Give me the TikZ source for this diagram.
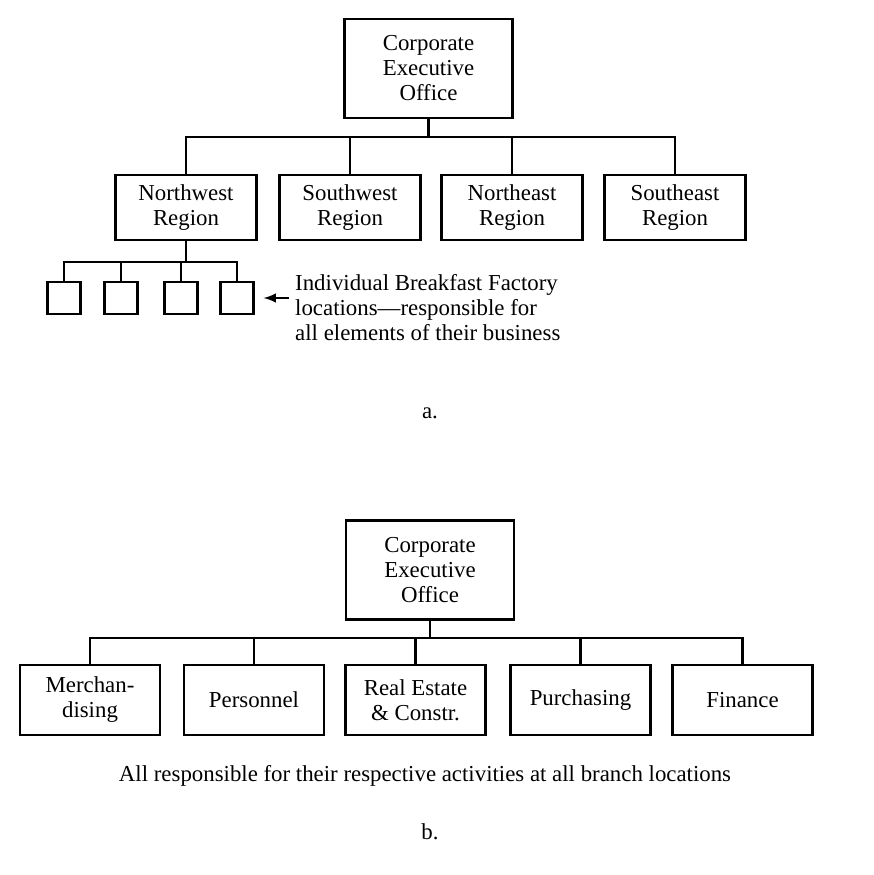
\documentclass[tikz,border=0pt]{standalone}
\usepackage{fontspec}
\setmainfont{Liberation Serif}

\begin{document}
\begin{tikzpicture}[x=0.02cm, y=-0.02cm, >=latex,
    font=\fontsize{13}{14.2}\selectfont,
    conn/.style={line width=1.4pt},
    box/.style={draw, line width=1.4pt, align=center, inner sep=2pt},
    topbox/.style={box, minimum width=3.36cm, minimum height=1.98cm},
    regionbox/.style={box, minimum width=2.82cm, minimum height=1.3cm},
    locbox/.style={box, minimum width=0.66cm, minimum height=0.64cm},
    deptbox/.style={box, minimum width=2.8cm, minimum height=1.4cm}]
        \useasboundingbox (0,0) rectangle (874,875);
        % ==== PART A: REGIONS ====
        \node[topbox] (ceoA) at (428.5,68.5) {Corporate\\Executive\\Office};
        \node[regionbox] (nw) at (186,207.5) {Northwest\\Region};
        \node[regionbox] (sw) at (350,207.5) {Southwest\\Region};
        \node[regionbox] (ne) at (512,207.5) {Northeast\\Region};
        \node[regionbox] (se) at (675,207.5) {Southeast\\Region};
        \coordinate (busA) at (428.5,137);
        \draw[conn] (ceoA.south) -- (busA);
        \foreach \r in {nw,sw,ne,se}
            \draw[conn] (busA) -| (\r.north);
        % ==== LOCATIONS UNDER NORTHWEST ====
        \foreach \i/\x in {1/64,2/121,3/181,4/237}
            \node[locbox] (loc\i) at (\x,298) {};
        \coordinate (busL) at (186,262);
        \draw[conn] (nw.south) -- (busL);
        \foreach \i in {1,...,4}
            \draw[conn] (busL) -| (loc\i.north);
        \node[anchor=west, align=left] (locnote) at (289,307.5)
            {Individual Breakfast Factory\\locations---responsible for\\all elements of their business};
        \draw[->, line width=1.4pt, shorten >=5pt] (locnote.west |- loc4.east) -- (loc4.east);
        \node (capA) at (430,413) {a.};

        % ==== PART B: FUNCTIONS ====
        \node[topbox] (ceoB) at (430,570) {Corporate\\Executive\\Office};
        \node[deptbox] (merch) at (90,700) {Merchan-\\dising};
        \node[deptbox] (pers) at (254,700) {Personnel};
        \node[deptbox] (realest) at (415.5,700) {Real Estate\\\& Constr.};
        \node[deptbox] (purch) at (580.5,700) {Purchasing};
        \node[deptbox] (fin) at (742.5,700) {Finance};
        \coordinate (busB) at (430,638);
        \draw[conn] (ceoB.south) -- (busB);
        \foreach \d in {merch,pers,realest,purch,fin}
            \draw[conn] (busB) -| (\d.north);
        \node (note) at (425,776) {All responsible for their respective activities at all branch locations};
        \node (capB) at (430,832) {b.};
\end{tikzpicture}
\end{document}
